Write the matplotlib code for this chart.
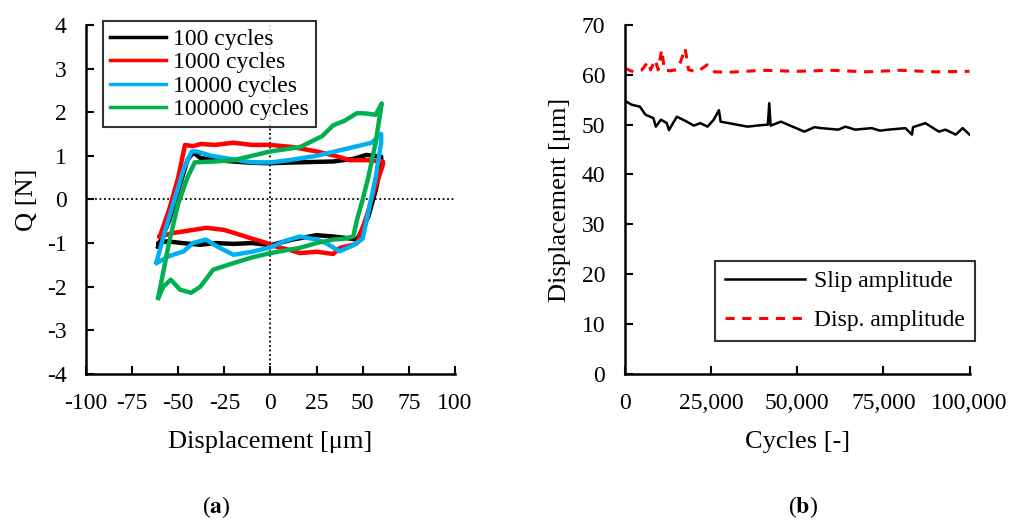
import matplotlib
matplotlib.use('Agg')
import matplotlib.pyplot as plt
from matplotlib.ticker import FuncFormatter

plt.rcParams['font.family'] = ['Liberation Serif', 'DejaVu Serif']
plt.rcParams['mathtext.fontset'] = 'stix'
plt.rcParams['axes.unicode_minus'] = False

# ---- (a) fretting loops, displacement [um] vs Q [N]
x_100 = [-60.8, -55, -50, -45, -41.8, -38, -30, -20, -10, 0, 15, 34, 45, 52, 60, 60, 57, 53, 47, 40, 34, 25, 12, 0, -10, -20, -30, -38, -48, -56, -60.8, -60.8]
q_100 = [-1.08, -0.5, 0.2, 0.9, 1.08, 0.95, 0.9, 0.87, 0.84, 0.83, 0.85, 0.87, 0.93, 1.02, 0.98, 0.8, 0.2, -0.4, -0.92, -0.88, -0.85, -0.82, -0.92, -1.05, -1.0, -1.02, -1.0, -1.04, -1.0, -0.96, -1.0, -1.08]

x_1000 = [-60, -55, -50, -46.3, -42, -38, -30, -20, -10, 0, 12, 25, 35, 43, 52, 61, 61, 57, 52, 47, 44.9, 37.7, 34, 25, 16, 10.5, 0, -2, -10, -16.5, -25, -34.6, -45, -52.7, -60]
q_1000 = [-0.85, -0.25, 0.5, 1.25, 1.22, 1.27, 1.25, 1.3, 1.25, 1.25, 1.2, 1.1, 1.0, 0.9, 0.9, 0.87, 0.8, 0.3, -0.4, -1.0, -1.04, -1.11, -1.25, -1.2, -1.23, -1.16, -1.05, -1.0, -0.9, -0.81, -0.7, -0.65, -0.72, -0.77, -0.85]

x_10000 = [-61.7, -57, -52, -47, -42.7, -40, -32, -25, -10, 0, 10, 25, 40, 55, 60, 60, 57, 53, 50, 45, 37.5, 30, 25, 16, 8, 0, -10, -20, -28, -35, -42, -47, -55, -61.7]
q_10000 = [-1.43, -0.7, 0.0, 0.7, 1.1, 1.1, 1.0, 0.95, 0.85, 0.85, 0.9, 1.0, 1.15, 1.3, 1.5, 1.3, 0.5, -0.3, -0.9, -1.05, -1.19, -1.0, -0.92, -0.85, -0.95, -1.1, -1.2, -1.27, -1.1, -0.92, -1.0, -1.19, -1.3, -1.46]

x_100000 = [-60.8, -55, -50, -45, -41, -30, -20, -10, 0, 16, 28, 34, 40, 47, 52, 57, 60.3, 57, 53, 50, 47, 44.9, 40, 34, 25, 16, 0, -10, -20, -31, -38, -43, -49, -54, -58, -60.8]
q_100000 = [-2.25, -1.0, -0.1, 0.5, 0.85, 0.87, 0.9, 1.0, 1.1, 1.2, 1.45, 1.7, 1.8, 1.98, 1.97, 1.94, 2.2, 1.3, 0.5, 0.0, -0.45, -0.85, -0.9, -0.92, -1.0, -1.11, -1.23, -1.33, -1.46, -1.61, -2.0, -2.14, -2.07, -1.84, -2.0, -2.26]

loop_labels = ['100 cycles', '1000 cycles', '10000 cycles', '100000 cycles']
loop_colors = ['black', '#ff0000', '#00b0f0', '#00b050']

# ---- (b) amplitudes vs cycles
cyc_slip = [500, 2000, 4400, 6000, 8300, 9000, 10500, 12200, 12800, 15100, 18000, 20000, 21900, 24000, 25800, 27300, 27800,
            35600, 39500, 41500, 41900, 42300, 45300, 49000, 52100, 55000, 57000, 61900, 64000, 66800, 71600, 74000, 76500,
            81400, 83300, 83600, 87200, 91100, 93000, 96000, 98000, 100000]
slip = [54.6, 54.0, 53.6, 52.0, 51.3, 49.6, 51.0, 50.3, 48.9, 51.6, 50.6, 49.8, 50.3, 49.6, 51.0, 52.9, 50.6,
        49.6, 49.9, 50.0, 54.3, 49.8, 50.6, 49.5, 48.6, 49.5, 49.3, 49.0, 49.6, 49.0, 49.3, 48.8, 49.0,
        49.3, 48.0, 49.5, 50.3, 48.6, 49.0, 48.0, 49.3, 48.0]

cyc_disp = [0, 2500, 5000, 6700, 7500, 8800, 9700, 10700, 11500, 13000, 15000, 16000, 17500, 18500, 21000, 23900, 26000,
            30000, 40000, 50000, 60000, 70000, 80000, 90000, 100000]
disp = [61.3, 60.6, 61.0, 62.6, 61.0, 63.0, 61.0, 65.0, 61.0, 60.8, 61.0, 62.3, 65.3, 61.0, 60.6, 62.0, 60.6,
        60.5, 60.9, 60.7, 60.9, 60.6, 60.9, 60.6, 60.7]

fig = plt.figure(figsize=(10.11, 5.2), dpi=100)

# left panel
ax1 = fig.add_axes([0.085, 0.281, 0.365, 0.671])
ax1.axhline(0, color='black', ls=(0, (1, 1.5)), lw=1.3, zorder=1)
ax1.axvline(0, color='black', ls=(0, (1, 1.5)), lw=1.3, zorder=1)
loops = [(x_100, q_100), (x_1000, q_1000), (x_10000, q_10000), (x_100000, q_100000)]
for i in range(4):
    ax1.plot(loops[i][0], loops[i][1], color=loop_colors[i], lw=3.2, label=loop_labels[i], zorder=2 + i)
ax1.set_xlim(-100, 100)
ax1.set_ylim(-4, 4)
ax1.set_xticks(range(-100, 101, 25))
ax1.set_yticks(range(-4, 5, 1))
ax1.spines['top'].set_visible(False)
ax1.spines['right'].set_visible(False)
for s in ['left', 'bottom']:
    ax1.spines[s].set_linewidth(1.8)
ax1.tick_params(direction='in', length=6, width=1.5, labelsize=17, pad=14)
ax1.set_xlabel('Displacement [μm]', fontsize=19, labelpad=12)
ax1.set_ylabel('Q [N]', fontsize=19, labelpad=6)
leg1 = ax1.legend(loc='upper left', bbox_to_anchor=(0.045, 1.01), fontsize=17, frameon=True, fancybox=False,
                  edgecolor='black', handlelength=2.4, handletextpad=0.3, labelspacing=0.08, borderpad=0.3,
                  borderaxespad=0)
leg1.get_frame().set_linewidth(1.5)
for l in leg1.get_lines():
    l.set_linewidth(2.5)

# right panel
ax2 = fig.add_axes([0.618, 0.281, 0.341, 0.671])
ax2.plot(cyc_slip, slip, color='black', lw=1.8, label='Slip amplitude')
ax2.plot(cyc_disp, disp, color='#ff0000', lw=2.2, ls=(0, (3, 2.5)), label='Disp. amplitude')
ax2.set_xlim(0, 100000)
ax2.set_ylim(0, 70)
ax2.set_xticks(range(0, 100001, 25000))
ax2.set_yticks(range(0, 71, 10))
ax2.xaxis.set_major_formatter(FuncFormatter(lambda v, p: '{:,.0f}'.format(v)))
ax2.spines['top'].set_visible(False)
ax2.spines['right'].set_visible(False)
for s in ['left', 'bottom']:
    ax2.spines[s].set_linewidth(1.8)
ax2.tick_params(direction='in', length=6, width=1.5, labelsize=17, pad=14)
ax2.set_xlabel('Cycles [-]', fontsize=19, labelpad=12)
ax2.set_ylabel('Displacement [μm]', fontsize=19, labelpad=8)
leg2 = ax2.legend(loc='lower right', bbox_to_anchor=(1.015, 0.095), fontsize=17, frameon=True, fancybox=False,
                  edgecolor='black', handlelength=3.4, handletextpad=0.4, labelspacing=0.75, borderpad=0.4,
                  borderaxespad=0)
leg2.get_frame().set_linewidth(1.5)

fig.text(0.214, 0.0, r'($\mathbf{a}$)', fontsize=17, ha='center', va='bottom')
fig.text(0.794, 0.0, r'($\mathbf{b}$)', fontsize=17, ha='center', va='bottom')

fig.savefig('out.png', dpi=100)
